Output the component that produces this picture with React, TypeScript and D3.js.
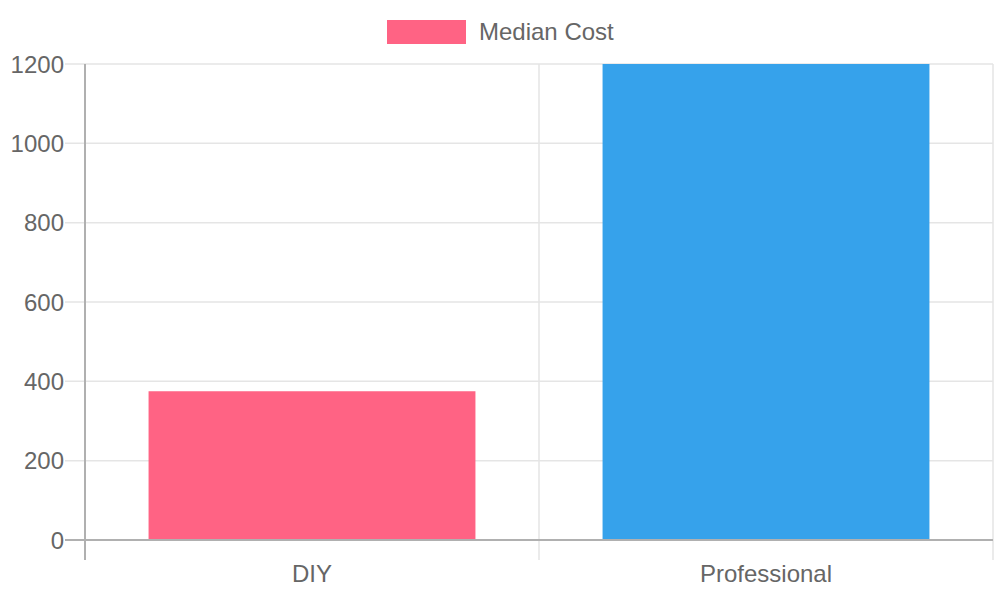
import React from 'react';
import * as d3 from 'd3';

// Chart data
const categories = ['DIY', 'Professional'];
const medianCost = [375, 1200];
const barColors = ['#ff6384', '#36a2eb'];
const yTicks = [0, 200, 400, 600, 800, 1000, 1200];
const seriesLabel = 'Median Cost';

const WIDTH = 1000;
const HEIGHT = 600;
const margin = { top: 64, right: 7, bottom: 60, left: 85 };
const FONT = '"Liberation Sans", Arial, Helvetica, sans-serif';
const TEXT_COLOR = '#666';
const GRID_COLOR = '#e5e5e5';
const AXIS_COLOR = '#b0b0b0';

export default function App() {
  const x = d3.scaleBand<string>()
    .domain(categories)
    .range([margin.left, WIDTH - margin.right])
    .paddingInner(0)
    .paddingOuter(0);

  const y = d3.scaleLinear()
    .domain([0, 1200])
    .range([HEIGHT - margin.bottom, margin.top]);

  const barWidth = x.bandwidth() * 0.72;
  const plotBottom = y(0);
  const plotTop = y(1200);
  const tickLen = 20;

  // vertical grid lines sit on the band edges
  const bandEdges = [...categories.map(c => x(c) || 0), WIDTH - margin.right];

  return (
    <svg
      width={WIDTH}
      height={HEIGHT}
      style={{ position: 'absolute', left: 0, top: 0, background: '#fff' }}
      fontFamily={FONT}
    >
      {/* legend */}
      <rect x={387} y={20} width={79} height={24} fill={barColors[0]} />
      <text x={479} y={40} fontSize={24} fill={TEXT_COLOR}>{seriesLabel}</text>

      {/* horizontal grid + y ticks */}
      {yTicks.map(t => (
        <g key={t}>
          <line
            x1={margin.left - tickLen}
            x2={WIDTH - margin.right}
            y1={y(t)}
            y2={y(t)}
            stroke={t === 0 ? AXIS_COLOR : GRID_COLOR}
            strokeWidth={t === 0 ? 2 : 1.5}
          />
          <text
            x={64}
            y={y(t)}
            textAnchor="end"
            dominantBaseline="central"
            fontSize={24}
            fill={TEXT_COLOR}
          >
            {t}
          </text>
        </g>
      ))}

      {/* vertical grid lines */}
      {bandEdges.map((ex, i) => (
        <line
          key={i}
          x1={ex}
          x2={ex}
          y1={plotTop}
          y2={plotBottom + tickLen}
          stroke={i === 0 ? AXIS_COLOR : GRID_COLOR}
          strokeWidth={i === 0 ? 2 : 1.5}
        />
      ))}

      {/* bars */}
      {categories.map((c, i) => {
        const cx = (x(c) || 0) + x.bandwidth() / 2;
        return (
          <rect
            key={c}
            x={cx - barWidth / 2}
            y={y(medianCost[i])}
            width={barWidth}
            height={plotBottom - y(medianCost[i])}
            fill={barColors[i]}
          />
        );
      })}

      {/* redraw bottom axis on top of bars */}
      <line
        x1={margin.left - tickLen}
        x2={WIDTH - margin.right}
        y1={plotBottom}
        y2={plotBottom}
        stroke={AXIS_COLOR}
        strokeWidth={2}
      />

      {/* x labels */}
      {categories.map(c => (
        <text
          key={c}
          x={(x(c) || 0) + x.bandwidth() / 2}
          y={582}
          textAnchor="middle"
          fontSize={24}
          fill={TEXT_COLOR}
        >
          {c}
        </text>
      ))}
    </svg>
  );
}
